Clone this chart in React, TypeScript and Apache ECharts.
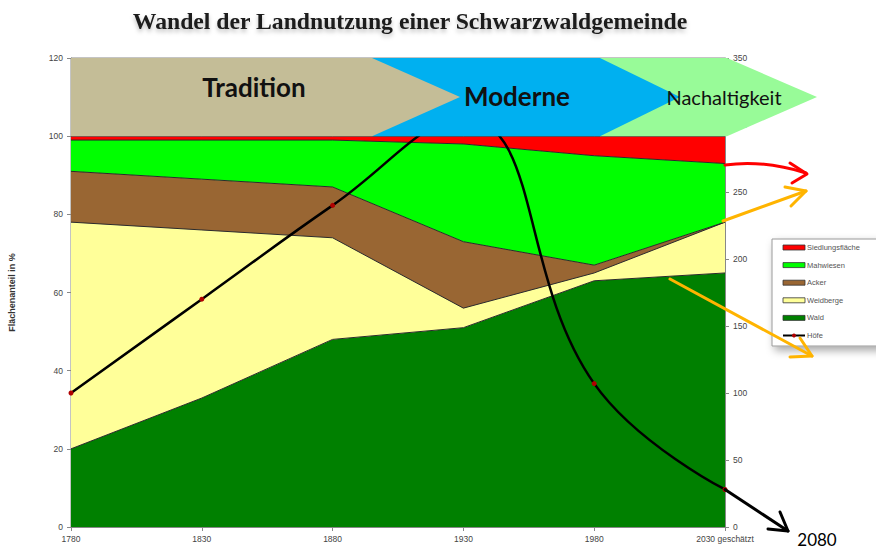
import React, { useEffect, useRef } from "react";
import * as echarts from "echarts";

const years = ["1780", "1830", "1880", "1930", "1980", "2030 geschätzt"];
const wald = [20, 33, 48, 51, 63, 65];
const weidberge = [58, 43, 26, 5, 2, 13];
const acker = [13, 13, 13, 17, 2, 0];
const mahwiesen = [8, 10, 12, 25, 28, 15];
const siedlung = [1, 1, 1, 2, 5, 7];
const hoefe = [100, 170, 240, 305, 107, 28];
const phases = ["Tradition", "Moderne", "Nachaltigkeit"];
const extensionYear = "2080";

const W = 876;
const H = 549;
const G = { left: 71, top: 58, right: 725, bottom: 527 };
const SANS = "Liberation Sans, Arial, sans-serif";

export default function App() {
  const ref = useRef<HTMLDivElement>(null);
  useEffect(() => {
    document.body.style.margin = "0";
    const chart = echarts.init(ref.current!, null, { renderer: "svg" });
    const areaSeries = (name: string, data: number[], color: string) => ({
      name,
      type: "line",
      stack: "total",
      data,
      symbol: "none",
      color,
      lineStyle: { color: "#2a2a2a", width: 1 },
      areaStyle: { color, opacity: 1 },
      emphasis: { disabled: true },
      z: 2,
    });
    const legendItem = (name: string, color: string) => ({
      name,
      icon: "rect",
      itemStyle: { color, borderColor: "#333", borderWidth: 0.8 },
    });
    chart.setOption({
      animation: false,
      title: {
        text: "Wandel der Landnutzung einer Schwarzwaldgemeinde",
        left: 410,
        top: 9,
        padding: 0,
        textAlign: "center",
        textStyle: {
          fontFamily: "Liberation Serif, Times New Roman, serif",
          fontWeight: "bold",
          fontSize: 23.7,
          color: "#1a1a1a",
          textShadowColor: "rgba(0,0,0,0.25)",
          textShadowBlur: 4,
          textShadowOffsetY: 3,
        },
      },
      grid: {
        left: G.left,
        top: G.top,
        right: W - G.right,
        bottom: H - G.bottom,
        outerBoundsMode: "none",
        show: true,
        borderColor: "#888",
        borderWidth: 1,
        backgroundColor: "transparent",
      },
      legend: {
        orient: "vertical",
        left: 772,
        top: 239,
        padding: [4, 40, 6, 10],
        itemWidth: 22,
        itemHeight: 5,
        itemGap: 8.6,
        backgroundColor: "#fff",
        borderColor: "#9a9a9a",
        borderWidth: 1,
        shadowColor: "rgba(0,0,0,0.35)",
        shadowBlur: 8,
        shadowOffsetX: 3,
        shadowOffsetY: 4,
        textStyle: { fontFamily: SANS, fontSize: 7.5, color: "#555", lineHeight: 9, padding: [0, 0, 0, -3] },
        data: [
          legendItem("Siedlungsfläche", "#ff0000"),
          legendItem("Mahwiesen", "#00ff00"),
          legendItem("Acker", "#996633"),
          legendItem("Weidberge", "#ffff99"),
          legendItem("Wald", "#008000"),
          { name: "Höfe" },
        ],
        selectedMode: false,
      },
      xAxis: {
        type: "category",
        data: years,
        boundaryGap: false,
        axisLine: { lineStyle: { color: "#888" } },
        axisTick: { show: true, length: 4, lineStyle: { color: "#888" } },
        axisLabel: { fontFamily: SANS, fontSize: 8.5, color: "#444", margin: 7, interval: 0 },
        splitLine: { show: false },
      },
      yAxis: [
        {
          type: "value",
          min: 0,
          max: 120,
          interval: 20,
          name: "Flächenanteil in %",
          nameLocation: "middle",
          nameGap: 55,
          nameRotate: 90,
          nameTextStyle: { fontFamily: SANS, fontSize: 9, fontWeight: "bold", color: "#333" },
          axisLine: { show: true, lineStyle: { color: "#888" } },
          axisTick: { show: true, length: 4, lineStyle: { color: "#888" } },
          axisLabel: { fontFamily: SANS, fontSize: 8.5, color: "#444", margin: 8 },
          splitLine: { show: false },
        },
        {
          type: "value",
          min: 0,
          max: 350,
          interval: 50,
          position: "right",
          axisLine: { show: true, lineStyle: { color: "#888" } },
          axisTick: { show: true, length: 4, lineStyle: { color: "#888" } },
          axisLabel: { fontFamily: SANS, fontSize: 8.5, color: "#444", margin: 8 },
          splitLine: { show: false },
        },
      ],
      series: [
        areaSeries("Wald", wald, "#008000"),
        areaSeries("Weidberge", weidberge, "#ffff99"),
        areaSeries("Acker", acker, "#996633"),
        areaSeries("Mahwiesen", mahwiesen, "#00ff00"),
        areaSeries("Siedlungsfläche", siedlung, "#ff0000"),
        {
          name: "Höfe",
          type: "line",
          yAxisIndex: 1,
          data: hoefe,
          smooth: 0.45,
          symbol: "circle",
          symbolSize: 5,
          color: "#000",
          itemStyle: { color: "#b00000", borderWidth: 0 },
          lineStyle: { color: "#000", width: 2.5 },
          emphasis: { disabled: true },
          z: 5,
        },
      ],
    });

    const y100 = chart.convertToPixel({ yAxisIndex: 0 }, 100) as number;
    const yTop = chart.convertToPixel({ yAxisIndex: 0 }, 120) as number;
    const xL = chart.convertToPixel({ xAxisIndex: 0 }, years[0]) as number;
    const xR = chart.convertToPixel({ xAxisIndex: 0 }, years[years.length - 1]) as number;
    const last = chart.convertToPixel({ seriesIndex: 5 }, [years.length - 1, hoefe[hoefe.length - 1]]) as number[];
    const mid = (yTop + y100) / 2;
    const chevron = (x0: number, x1: number, xp: number) => [
      [x0, yTop],
      [x1, yTop],
      [xp, mid],
      [x1, y100],
      [x0, y100],
    ];
    const Z = 100;
    const arrowLine = (color: string) => ({ stroke: color, lineWidth: 3, fill: null, lineCap: "round", lineJoin: "round" });
    const tip = [788, 531];
    chart.setOption({
      graphic: [
        { type: "polygon", z: Z, shape: { points: chevron(600, xR + 2, 817) }, style: { fill: "#98fb98" } },
        { type: "polygon", z: Z + 1, shape: { points: chevron(372, 600, 680) }, style: { fill: "#00b0f0" } },
        { type: "polygon", z: Z + 2, shape: { points: chevron(xL, 372, 460) }, style: { fill: "#c4bd97" } },
        {
          type: "text", z: Z + 3, x: 254, y: 100,
          style: { text: phases[0], fill: "#111", font: "bold 26px Lato, sans-serif", textAlign: "center", textVerticalAlign: "bottom" },
        },
        {
          type: "text", z: Z + 3, x: 517, y: 109,
          style: { text: phases[1], fill: "#111", font: "bold 26px Lato, sans-serif", textAlign: "center", textVerticalAlign: "bottom" },
        },
        {
          type: "text", z: Z + 3, x: 724, y: 107,
          style: { text: phases[2], fill: "#111", font: "20px Lato, sans-serif", textAlign: "center", textVerticalAlign: "bottom" },
        },
        // black extension of Höfe to 2080
        { type: "line", z: Z, shape: { x1: last[0], y1: last[1], x2: tip[0], y2: tip[1] }, style: arrowLine("#000") },
        { type: "polyline", z: Z, shape: { points: [[780, 512], tip, [768, 529]] }, style: arrowLine("#000") },
        {
          type: "text", z: Z, x: 817, y: 539,
          style: { text: extensionYear, fill: "#000", font: "17px Lato, sans-serif", textAlign: "center", textVerticalAlign: "middle" },
        },
        // red arrow
        {
          type: "bezierCurve", z: Z,
          shape: { x1: xR, y1: 165, cpx1: 760, cpy1: 160, cpx2: 790, cpy2: 168, x2: 806, y2: 173 },
          style: arrowLine("#ff0000"),
        },
        { type: "polyline", z: Z, shape: { points: [[790, 163], [807, 174], [792, 183]] }, style: arrowLine("#ff0000") },
        // upper orange arrow
        { type: "line", z: Z, shape: { x1: xR - 2, y1: 221, x2: 806, y2: 191 }, style: arrowLine("#ffb400") },
        { type: "polyline", z: Z, shape: { points: [[785, 187], [806, 191], [791, 206]] }, style: arrowLine("#ffb400") },
        // lower orange arrow
        { type: "line", z: Z, shape: { x1: 670, y1: 279, x2: 812, y2: 356 }, style: arrowLine("#ffb400") },
        { type: "polyline", z: Z, shape: { points: [[800, 338], [812, 356], [790, 357]] }, style: arrowLine("#ffb400") },
      ],
    });
    return () => chart.dispose();
  }, []);
  return <div ref={ref} style={{ width: W, height: H }} />;
}
